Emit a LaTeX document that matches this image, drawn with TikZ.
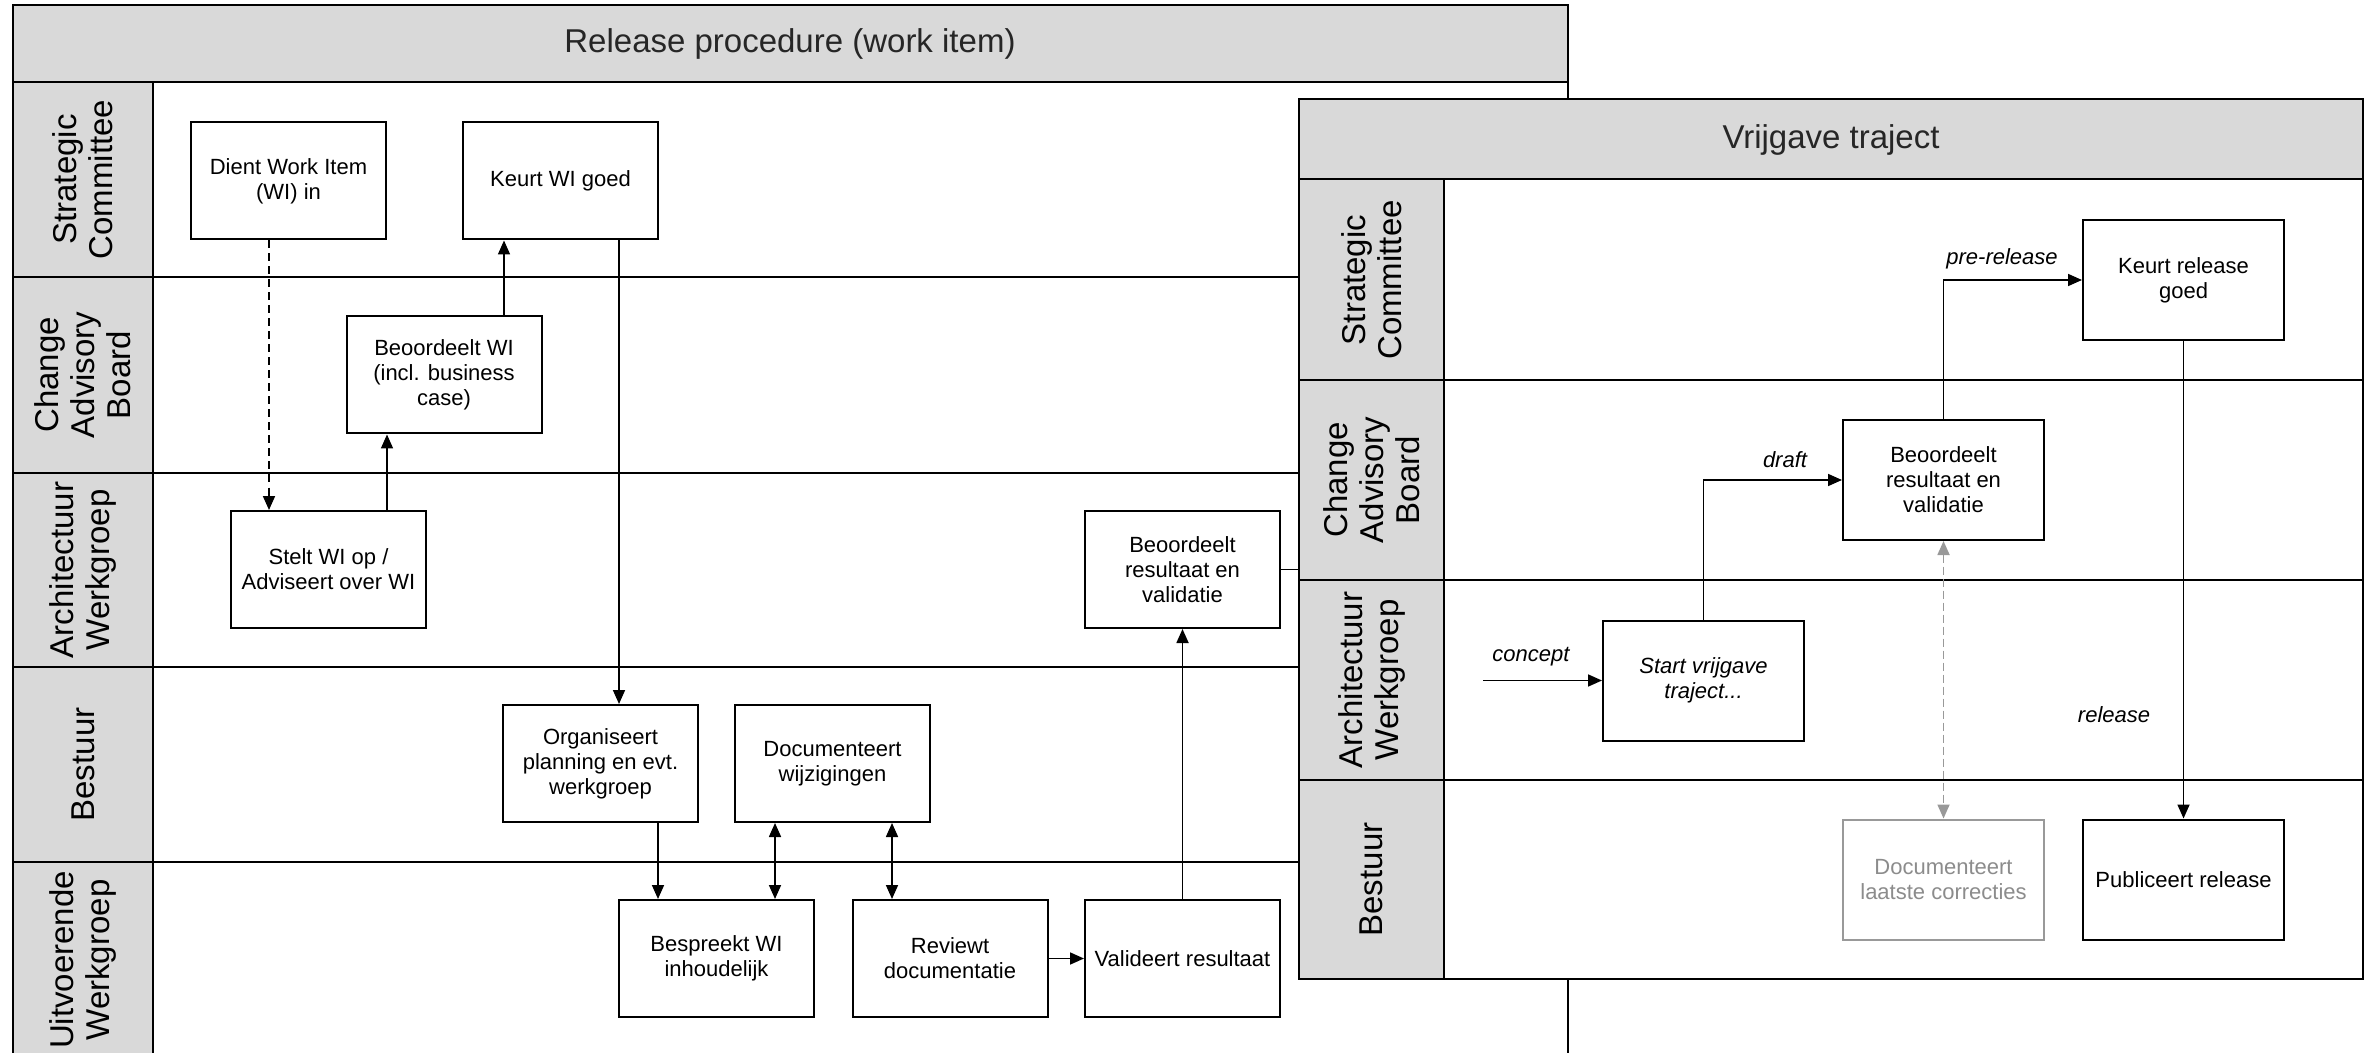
\documentclass[tikz,border=0pt]{standalone}
\usepackage{fontspec}
\setmainfont{Liberation Sans}
\usetikzlibrary{arrows.meta}
\definecolor{hdrgray}{HTML}{D9D9D9}
\definecolor{ltgray}{HTML}{999999}
\definecolor{txtgray}{HTML}{8C8C8C}
\begin{document}
\begin{tikzpicture}[x=0.5pt,y=-0.5pt,
  frame/.style={draw=black, line width=1.2pt},
  sep/.style={draw=black, line width=1pt},
  box/.style={draw=black, line width=1pt, fill=white, minimum width=97.5pt, minimum height=58.5pt, align=center, inner sep=2pt, font=\fontsize{11}{12.5}\selectfont},
  rbox/.style={box, minimum width=100.5pt, minimum height=60pt},
  lane/.style={rotate=90, align=center, font=\fontsize{16.5}{18}\selectfont},
  ttl/.style={font=\fontsize{16.5}{19}\selectfont, text=black!85},
  flowlbl/.style={font=\fontsize{11}{12.5}\selectfont\itshape, inner sep=1pt},
  tip/.style={},
  conn/.style={line width=0.85pt, -{Triangle[length=7pt,width=6pt]}},
  dconn/.style={line width=0.85pt, {Triangle[length=7pt,width=6pt]}-{Triangle[length=7pt,width=6pt]}},
  gconn/.style={ltgray, line width=0.85pt, dash pattern=on 4pt off 2pt, {Triangle[length=7pt,width=6pt]}-{Triangle[length=7pt,width=6pt]}}
]
\useasboundingbox (0,0) rectangle (2366,1053);
\clip (0,0) rectangle (2366,1053);
\fill[white] (0,0) rectangle (2366,1053);

% ---------------- Left diagram ----------------
\fill[hdrgray] (13,5) rectangle (1568,82);
\fill[hdrgray] (13,82) rectangle (153,1060);
\draw[sep] (13,277) -- (1568,277);
\draw[sep] (13,473) -- (1568,473);
\draw[sep] (13,667) -- (1568,667);
\draw[sep] (13,862) -- (1568,862);
\draw[frame] (13,5) rectangle (1568,1060);
\draw[frame] (13,82) -- (1568,82);
\draw[frame] (153,82) -- (153,1060);

\node[ttl] (ltitle) at (790,44) {Release procedure (work item)};
\node[lane] (lsc)  at (83,179.5) {Strategic\\Committee};
\node[lane] (lcab) at (83,375)   {Change\\Advisory\\Board};
\node[lane] (law)  at (83,570)   {Architectuur\\Werkgroep};
\node[lane] (lbes) at (83,764.5) {Bestuur};
\node[lane] (luw)  at (83,960)   {Uitvoerende\\Werkgroep};

\node[box] (dient)     at (288.5,181)   {Dient Work Item\\(WI) in};
\node[box] (keurtwi)   at (560.5,181)   {Keurt WI goed};
\node[box] (beoordwi)  at (444,375)     {Beoordeelt WI\\(incl. business\\case)};
\node[box] (stelt)     at (328.5,569.5) {Stelt WI op /\\Adviseert over WI};
\node[box] (beoordres) at (1182.5,569.5){Beoordeelt\\resultaat en\\validatie};
\node[box] (organ)     at (600.5,763.5) {Organiseert\\planning en evt.\\werkgroep};
\node[box] (docw)      at (832.5,763.5) {Documenteert\\wijzigingen};
\node[box] (bespr)     at (716.5,958.5) {Bespreekt WI\\inhoudelijk};
\node[box] (review)    at (950,958.5)   {Reviewt\\documentatie};
\node[box] (valid)     at (1182.5,958.5){Valideert resultaat};

\coordinate (x1) at (269,0);
\coordinate (x2) at (387,0);
\coordinate (x3) at (504,0);
\coordinate (x4) at (619,0);
\coordinate (x5) at (658,0);
\coordinate (x6) at (775,0);
\coordinate (x7) at (892,0);
\coordinate (rf) at (1299,569.5);

\draw[conn, dash pattern=on 4pt off 2.5pt] (dient.south -| x1) -- (stelt.north -| x1);
\draw[conn] (stelt.north -| x2) -- (beoordwi.south -| x2);
\draw[conn] (beoordwi.north -| x3) -- (keurtwi.south -| x3);
\draw[conn] (keurtwi.south -| x4) -- (organ.north -| x4);
\draw[conn] (organ.south -| x5) -- (bespr.north -| x5);
\draw[dconn] (docw.south -| x6) -- (bespr.north -| x6);
\draw[dconn] (docw.south -| x7) -- (review.north -| x7);
\draw[conn] (review.east) -- (valid.west);
\draw[conn] (valid.north) -- (beoordres.south);
\draw[line width=0.85pt] (beoordres.east) -- (rf);

% ---------------- Right diagram ----------------
\fill[white] (1299,99) rectangle (2363,979);
\fill[hdrgray] (1299,99) rectangle (2363,179);
\fill[hdrgray] (1299,179) rectangle (1444,979);
\draw[sep] (1299,380) -- (2363,380);
\draw[sep] (1299,580) -- (2363,580);
\draw[sep] (1299,780) -- (2363,780);
\draw[frame] (1299,99) rectangle (2363,979);
\draw[frame] (1299,179) -- (2363,179);
\draw[frame] (1444,179) -- (1444,979);

\node[ttl] (rtitle) at (1831,140) {Vrijgave traject};
\node[lane] (rsc)  at (1371.5,280)   {Strategic\\Committee};
\node[lane] (rcab) at (1371.5,480)   {Change\\Advisory\\Board};
\node[lane] (raw)  at (1371.5,680)   {Architectuur\\Werkgroep};
\node[lane] (rbes) at (1371.5,879.5) {Bestuur};

\node[rbox] (keurtrel) at (2183.5,280)   {Keurt release\\goed};
\node[rbox] (beoordr)  at (1943.5,480)   {Beoordeelt\\resultaat en\\validatie};
\node[rbox, font=\fontsize{11}{12.5}\selectfont\itshape] (start) at (1703.5,680.5) {Start vrijgave\\traject...};
\node[rbox, draw=ltgray, text=txtgray] (doclaat) at (1943.5,879.5) {Documenteert\\laatste correcties};
\node[rbox] (publ)     at (2183.5,879.5) {Publiceert release};

\coordinate (cin) at (1483,680.5);
\draw[conn] (cin) -- (start.west);
\draw[conn] (start.north) |- (beoordr.west);
\draw[conn] (beoordr.north) |- (keurtrel.west);
\draw[conn] (keurtrel.south) -- (publ.north);
\draw[gconn] (beoordr.south) -- (doclaat.north);

\node[flowlbl] (lconcept) at (1531,657) {concept};
\node[flowlbl] (ldraft)   at (1785,460) {draft};
\node[flowlbl] (lpre)     at (2002,259) {pre-release};
\node[flowlbl] (lrel)     at (2114,715) {release};
\end{tikzpicture}
\end{document}
